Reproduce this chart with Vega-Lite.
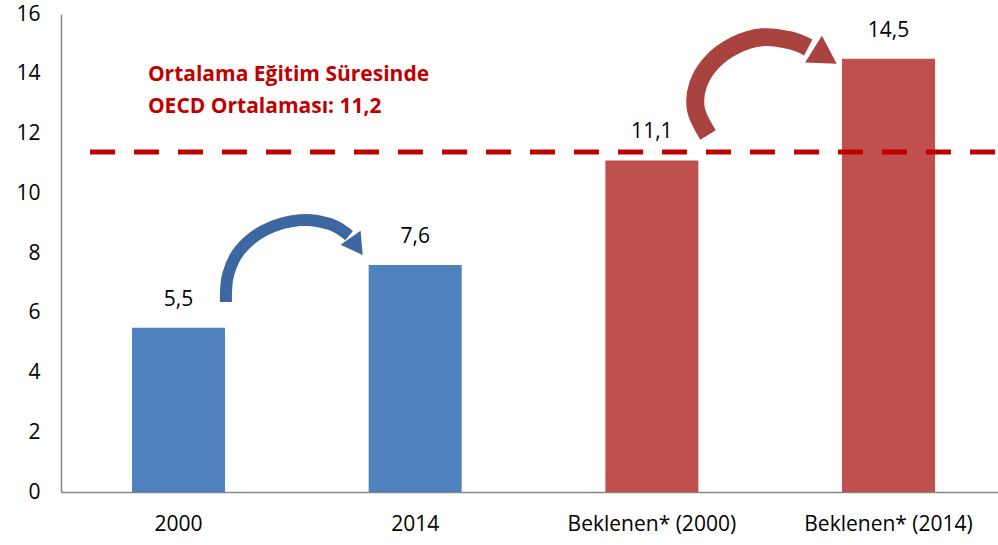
{
  "$schema": "https://vega.github.io/schema/vega-lite/v6.json",
  "width": 937,
  "height": 478,
  "autosize": "none",
  "padding": {"left": 61, "top": 14, "right": 0, "bottom": 53},
  "background": "white",
  "config": {"view": {"stroke": null}, "font": "Open Sans"},
  "datasets": {
    "bars": [
      {"cat": "2000", "value": 5.5, "label": "5,5", "group": "Gerçek"},
      {"cat": "2014", "value": 7.6, "label": "7,6", "group": "Gerçek"},
      {"cat": "Beklenen* (2000)", "value": 11.1, "label": "11,1", "group": "Beklenen"},
      {"cat": "Beklenen* (2014)", "value": 14.5, "label": "14,5", "group": "Beklenen"}
    ],
    "avg": [{"avg": 11.38, "start": 0.124, "end": 3.99}],
    "arrows": [
      {"arrow": "a", "order": 1, "px": 0.704, "py": 6.36},
      {"arrow": "a", "order": 2, "px": 0.713, "py": 7.26},
      {"arrow": "a", "order": 3, "px": 0.764, "py": 8.10},
      {"arrow": "a", "order": 4, "px": 0.871, "py": 8.77},
      {"arrow": "a", "order": 5, "px": 1.020, "py": 9.10},
      {"arrow": "a", "order": 6, "px": 1.148, "py": 8.97},
      {"arrow": "a", "order": 7, "px": 1.230, "py": 8.58},
      {"arrow": "b", "order": 1, "px": 2.762, "py": 11.95},
      {"arrow": "b", "order": 2, "px": 2.711, "py": 12.79},
      {"arrow": "b", "order": 3, "px": 2.719, "py": 13.62},
      {"arrow": "b", "order": 4, "px": 2.779, "py": 14.39},
      {"arrow": "b", "order": 5, "px": 2.877, "py": 14.95},
      {"arrow": "b", "order": 6, "px": 2.993, "py": 15.22},
      {"arrow": "b", "order": 7, "px": 3.112, "py": 15.12},
      {"arrow": "b", "order": 8, "px": 3.190, "py": 14.88}
    ],
    "heads": [
      {"arrow": "a", "px": 1.262, "py": 8.22},
      {"arrow": "b", "px": 3.262, "py": 14.58}
    ],
    "notes": [
      {"text": "Ortalama Eğitim Süresinde", "px": 0.371, "py": 13.96},
      {"text": "OECD Ortalaması: 11,2", "px": 0.371, "py": 12.89}
    ]
  },
  "resolve": {"scale": {"x": "independent"}},
  "layer": [
    {
      "data": {"name": "bars"},
      "encoding": {
        "x": {
          "field": "cat", "type": "nominal", "sort": null,
          "scale": {"paddingInner": 0.607, "paddingOuter": 0.283, "align": 0.53},
          "axis": {
            "title": null, "labelAngle": 0, "ticks": false, "labelPadding": 21,
            "labelFontSize": 21, "labelColor": "#000000", "labelFont": "Open Sans",
            "domainColor": "#868686", "domainWidth": 1.5
          }
        },
        "y": {
          "field": "value", "type": "quantitative",
          "scale": {"domain": [0, 16], "nice": false},
          "axis": {
            "title": null, "values": [0, 2, 4, 6, 8, 10, 12, 14, 16], "grid": false,
            "ticks": false, "labelPadding": 21, "labelFontSize": 21,
            "labelColor": "#000000", "labelFont": "Open Sans",
            "domainColor": "#868686", "domainWidth": 1.5
          }
        }
      },
      "layer": [
        {
          "mark": {"type": "bar"},
          "encoding": {
            "color": {
              "field": "group", "type": "nominal",
              "scale": {"domain": ["Gerçek", "Beklenen"], "range": ["#4F81BD", "#C0504D"]},
              "legend": null
            }
          }
        },
        {
          "mark": {"type": "text", "dy": -28, "fontSize": 21, "color": "#000000", "baseline": "middle", "font": "Open Sans"},
          "encoding": {"text": {"field": "label"}}
        }
      ]
    },
    {
      "data": {"name": "avg"},
      "mark": {"type": "rule", "color": "#C00000", "strokeWidth": 5, "strokeDash": [25, 19]},
      "encoding": {
        "x": {"field": "start", "type": "quantitative", "scale": {"domain": [0, 4], "nice": false, "zero": false}, "axis": null},
        "x2": {"field": "end"},
        "y": {"field": "avg", "type": "quantitative"}
      }
    },
    {
      "data": {"name": "notes"},
      "mark": {"type": "text", "align": "left", "baseline": "middle", "fontSize": 21, "fontWeight": "bold", "color": "#C00000", "font": "Open Sans"},
      "encoding": {
        "x": {"field": "px", "type": "quantitative", "scale": {"domain": [0, 4], "nice": false, "zero": false}, "axis": null},
        "y": {"field": "py", "type": "quantitative"},
        "text": {"field": "text"}
      }
    },
    {
      "data": {"name": "arrows"},
      "transform": [{"filter": "datum.arrow === 'a'"}],
      "mark": {"type": "line", "interpolate": "cardinal", "strokeWidth": 12, "color": "#3D67A0", "strokeCap": "butt"},
      "encoding": {
        "x": {"field": "px", "type": "quantitative", "scale": {"domain": [0, 4], "nice": false, "zero": false}, "axis": null},
        "y": {"field": "py", "type": "quantitative"},
        "order": {"field": "order"}
      }
    },
    {
      "data": {"name": "arrows"},
      "transform": [{"filter": "datum.arrow === 'b'"}],
      "mark": {"type": "line", "interpolate": "cardinal", "strokeWidth": 18, "color": "#A8433F", "strokeCap": "butt"},
      "encoding": {
        "x": {"field": "px", "type": "quantitative", "scale": {"domain": [0, 4], "nice": false, "zero": false}, "axis": null},
        "y": {"field": "py", "type": "quantitative"},
        "order": {"field": "order"}
      }
    },
    {
      "data": {"name": "heads"},
      "transform": [{"filter": "datum.arrow === 'a'"}],
      "mark": {"type": "point", "shape": "triangle-up", "filled": true, "opacity": 1, "size": 600, "angle": 145, "color": "#3D67A0"},
      "encoding": {
        "x": {"field": "px", "type": "quantitative", "scale": {"domain": [0, 4], "nice": false, "zero": false}, "axis": null},
        "y": {"field": "py", "type": "quantitative"}
      }
    },
    {
      "data": {"name": "heads"},
      "transform": [{"filter": "datum.arrow === 'b'"}],
      "mark": {"type": "point", "shape": "triangle-up", "filled": true, "opacity": 1, "size": 1000, "angle": 122, "color": "#A8433F"},
      "encoding": {
        "x": {"field": "px", "type": "quantitative", "scale": {"domain": [0, 4], "nice": false, "zero": false}, "axis": null},
        "y": {"field": "py", "type": "quantitative"}
      }
    }
  ]
}
